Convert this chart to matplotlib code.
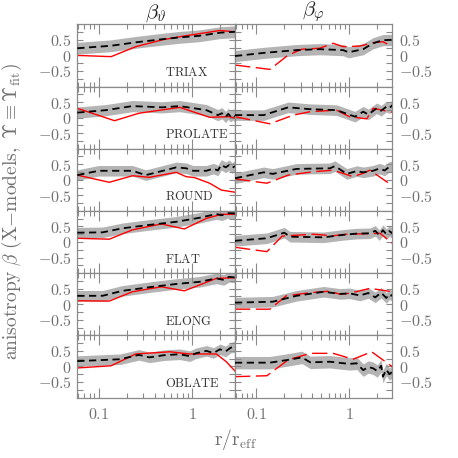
import matplotlib.pyplot as plt
from matplotlib.ticker import LogLocator, NullFormatter, FixedLocator, FixedFormatter
import numpy as np

plt.rcParams['font.family'] = ['DejaVu Serif']
plt.rcParams['mathtext.fontset'] = 'cm'

# -------------------------
# data: (r/r_eff, beta)
# -------------------------
names = ['TRIAX', 'PROLATE', 'ROUND', 'FLAT', 'ELONG', 'OBLATE']

# beta_theta (left column): red = true, black = X-model
th_red_r = [
    [0.059, 0.136, 0.25, 0.48, 0.74, 1.99, 2.9],
    [0.059, 0.148, 0.27, 0.74, 1.55, 2.55, 2.9],
    [0.059, 0.13, 0.23, 0.35, 0.68, 0.87, 1.07, 1.55, 2.07, 2.9],
    [0.059, 0.13, 0.23, 0.47, 0.83, 1.43, 2.07, 2.9],
    [0.059, 0.13, 0.23, 0.47, 0.83, 1.83, 2.9],
    [0.059, 0.136, 0.25, 0.58, 0.94, 1.83, 2.34, 2.9],
]
th_red_b = [
    [0.00, -0.04, 0.28, 0.50, 0.60, 0.80, 0.76],
    [0.30, -0.10, 0.14, 0.33, 0.01, 0.03, -0.02],
    [0.15, -0.08, 0.13, 0.08, 0.24, 0.10, 0.07, -0.11, -0.33, -0.40],
    [0.12, 0.09, 0.39, 0.58, 0.42, 0.76, 0.89, 0.89],
    [0.11, 0.10, 0.40, 0.56, 0.43, 0.83, 0.85],
    [-0.05, 0.02, 0.40, 0.47, 0.40, 0.40, 0.15, -0.15],
]
th_mod_r = [
    [0.059, 0.136, 0.25, 0.48, 0.74, 1.2, 2.0, 2.9],
    [0.059, 0.12, 0.23, 0.48, 0.74, 1.43, 1.9, 2.1, 2.3, 2.45, 2.6, 2.75, 2.9],
    [0.059, 0.10, 0.23, 0.32, 0.68, 0.87, 1.03, 1.43, 1.7, 1.9, 2.07, 2.3, 2.5, 2.7, 2.9],
    [0.059, 0.11, 0.18, 0.35, 0.68, 1.21, 1.83, 2.1, 2.4, 2.9],
    [0.059, 0.11, 0.18, 0.38, 0.68, 1.21, 1.83, 2.2, 2.5, 2.9],
    [0.059, 0.17, 0.27, 0.35, 0.50, 0.74, 0.95, 1.1, 1.43, 1.7, 2.0, 2.3, 2.6, 2.9],
]
th_mod_b = [
    [0.23, 0.31, 0.42, 0.52, 0.58, 0.63, 0.73, 0.76],
    [0.16, 0.24, 0.37, 0.33, 0.37, 0.24, 0.08, 0.14, 0.02, 0.12, 0.04, 0.10, 0.03],
    [0.15, 0.29, 0.29, 0.15, 0.40, 0.37, 0.29, 0.29, 0.36, 0.30, 0.48, 0.40, 0.47, 0.38, 0.44],
    [0.30, 0.31, 0.44, 0.55, 0.65, 0.78, 0.90, 0.86, 0.93, 0.92],
    [0.27, 0.27, 0.43, 0.56, 0.65, 0.72, 0.83, 0.78, 0.88, 0.86],
    [0.17, 0.23, 0.37, 0.29, 0.36, 0.39, 0.33, 0.42, 0.50, 0.43, 0.55, 0.48, 0.60, 0.63],
]

# beta_phi (right column)
ph_red_r = [
    [0.059, 0.14, 0.22, 0.31, 0.48, 0.67, 0.86, 1.3, 1.81, 2.3, 2.9],
    [0.059, 0.14, 0.25, 0.38, 0.73, 1.0, 1.54, 1.81, 2.9],
    [0.059, 0.13, 0.22, 0.41, 0.67, 1.1, 1.41, 1.67, 2.9],
    [0.059, 0.13, 0.19, 0.41, 0.67, 0.94, 2.14, 2.9],
    [0.059, 0.14, 0.21, 0.38, 0.62, 0.79, 1.0, 1.67, 2.9],
    [0.059, 0.13, 0.22, 0.38, 0.67, 1.1, 1.74, 2.9],
]
ph_red_b = [
    [-0.31, -0.45, 0.01, 0.20, 0.23, 0.39, 0.28, 0.30, 0.41, 0.44, 0.28],
    [0.03, -0.20, 0.08, 0.19, 0.24, 0.03, -0.04, 0.30, 0.17],
    [0.03, -0.11, 0.15, 0.26, 0.31, 0.10, 0.21, 0.31, -0.19],
    [-0.17, -0.31, 0.19, 0.25, 0.20, 0.25, 0.28, -0.04],
    [-0.16, -0.16, 0.27, 0.37, 0.42, 0.32, 0.35, 0.51, 0.40],
    [-0.33, -0.30, 0.21, 0.42, 0.42, 0.23, 0.47, -0.01],
]
ph_mod_r = [
    [0.059, 0.12, 0.27, 0.48, 0.86, 0.98, 1.41, 1.8, 2.3, 2.9],
    [0.059, 0.12, 0.22, 0.38, 0.73, 1.15, 1.41, 1.6, 1.97, 2.2, 2.5, 2.7, 2.9],
    [0.059, 0.12, 0.15, 0.27, 0.62, 0.70, 0.94, 1.2, 1.41, 1.8, 2.1, 2.4, 2.7, 2.9],
    [0.059, 0.13, 0.20, 0.23, 0.53, 0.86, 1.2, 1.67, 1.9, 2.1, 2.3, 2.5, 2.7, 2.9],
    [0.059, 0.15, 0.27, 0.53, 0.8, 1.0, 1.3, 1.6, 1.9, 2.2, 2.5, 2.7, 2.9],
    [0.059, 0.14, 0.22, 0.31, 0.38, 0.62, 1.0, 1.2, 1.41, 1.6, 1.8, 2.0, 2.2, 2.3, 2.5, 2.7, 2.9],
]
ph_mod_b = [
    [-0.02, 0.08, 0.17, 0.20, 0.17, 0.10, 0.20, 0.39, 0.49, 0.50],
    [0.08, 0.08, 0.33, 0.27, 0.24, 0.03, 0.19, 0.10, 0.30, 0.22, 0.35, 0.30, 0.40],
    [0.05, 0.24, 0.19, 0.35, 0.37, 0.44, 0.19, 0.28, 0.24, 0.29, 0.36, 0.30, 0.42, 0.42],
    [0.04, 0.12, 0.30, 0.17, 0.15, 0.23, 0.27, 0.28, 0.36, 0.22, 0.38, 0.25, 0.35, 0.28],
    [0.05, 0.08, 0.27, 0.40, 0.33, 0.35, 0.28, 0.36, 0.22, 0.37, 0.20, 0.32, 0.27],
    [0.12, 0.12, 0.21, 0.29, 0.13, 0.15, 0.08, 0.10, -0.12, -0.02, -0.06, -0.15, 0.02, -0.33, -0.10, -0.25, -0.17],
]

# half width of the grey error band, per panel
th_band = [0.19, 0.18, 0.17, 0.17, 0.17, 0.17]
ph_band = [0.18, 0.17, 0.17, 0.17, 0.17, 0.20]

# -------------------------
# layout
# -------------------------
W = 458.0
fig = plt.figure(figsize=(4.58, 4.58), dpi=100)
x0, xm, x1 = 77.3, 235.0, 392.3
ytop, rowh = 24.3, 62.2
grey = '#8a8a8a'
txt = '#707070'

for i in range(6):
    for j in range(2):
        bottom = 1 - (ytop + (i + 1) * rowh) / W
        if j == 0:
            ax = fig.add_axes([x0 / W, bottom, (xm - x0) / W, rowh / W])
            red_r, red_b = th_red_r[i], th_red_b[i]
            mod_r, mod_b = np.array(th_mod_r[i]), np.array(th_mod_b[i])
            band = th_band[i]
            red_ls = '-'
        else:
            ax = fig.add_axes([xm / W, bottom, (x1 - xm) / W, rowh / W])
            red_r, red_b = ph_red_r[i], ph_red_b[i]
            mod_r, mod_b = np.array(ph_mod_r[i]), np.array(ph_mod_b[i])
            band = ph_band[i]
            red_ls = (0, (11, 4))

        ax.fill_between(mod_r, mod_b - band, mod_b + band, color='#b4b4b4', lw=0, zorder=1)
        ax.plot(mod_r, mod_b, color='black', lw=1.3, ls=(0, (4, 2.5)), zorder=3)
        ax.plot(red_r, red_b, color='red', lw=1.0, ls=red_ls, zorder=2)

        ax.set_xscale('log')
        ax.set_xlim(0.059, 2.9)
        ax.set_ylim(-1, 1)

        ax.xaxis.set_major_locator(FixedLocator([0.1, 1]))
        ax.xaxis.set_minor_locator(LogLocator(base=10, subs=np.arange(2, 10)))
        ax.xaxis.set_minor_formatter(NullFormatter())
        if i == 5:
            ax.xaxis.set_major_formatter(FixedFormatter([r'$0.1$', r'$1$']))
        else:
            ax.xaxis.set_major_formatter(NullFormatter())
        ax.yaxis.set_major_locator(FixedLocator([-0.5, 0, 0.5]))
        ax.yaxis.set_major_formatter(FixedFormatter([r'$-0.5$', r'$0$', r'$0.5$']))
        ax.yaxis.set_minor_locator(FixedLocator([-0.75, -0.25, 0.25, 0.75]))

        ax.tick_params(which='both', direction='in', top=True, right=True,
                       color=grey, labelcolor=txt, labelsize=11.5, width=0.8)
        ax.tick_params(axis='x', which='major', length=7, pad=6)
        ax.tick_params(axis='x', which='minor', length=3.5)
        ax.tick_params(axis='y', which='major', length=4)
        ax.tick_params(axis='y', which='minor', length=4)
        if j == 1:
            ax.tick_params(axis='y', labelleft=False, labelright=True, pad=5)
            for lab in ax.get_yticklabels():
                lab.set_horizontalalignment('left')
        else:
            ax.tick_params(axis='y', pad=4)
        for s in ax.spines.values():
            s.set_color(grey)
            s.set_linewidth(0.9)

        if j == 0:
            ax.text(0.556, 0.225, r'$\mathrm{' + names[i] + '}$', transform=ax.transAxes,
                    fontsize=9, color='#333333', ha='left', va='center')
        if i == 0:
            ax.set_title(r'$\beta_\vartheta$' if j == 0 else r'$\beta_\varphi$',
                         fontsize=15, pad=3, color='#222222')

fig.text(12 / W, 1 - 212 / W,
         r'$\mathrm{anisotropy}\ \beta\ \mathrm{(X{-}models,}\ \Upsilon\equiv\Upsilon_{\rm fit})$',
         rotation=90, ha='center', va='center', fontsize=14, color=txt)
fig.text(235 / W, 1 - 440 / W, r'$\mathrm{r/r_{eff}}$', ha='center', va='center',
         fontsize=14, color=txt)

fig.savefig('out.png', dpi=100)
